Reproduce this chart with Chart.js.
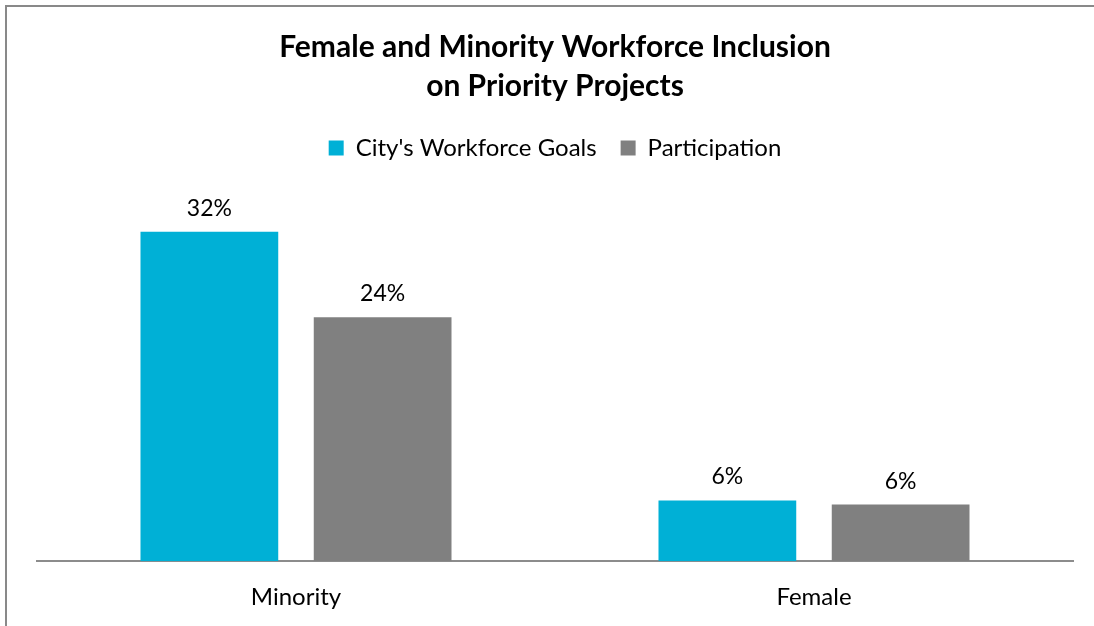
<!DOCTYPE html>
<html>
<head>
<meta charset="utf-8">
<script src="https://cdn.jsdelivr.net/npm/chart.js@4"></script>
<style>
  html, body { margin: 0; padding: 0; background: #fff; }
  #wrap { position: relative; width: 1094px; height: 626px; overflow: hidden; }
  #frame { position: absolute; left: 5px; top: 5px; width: 1200px; height: 700px;
           border-top: 2px solid #898989; border-left: 2px solid #898989; pointer-events: none; }
</style>
</head>
<body>
<div id="wrap">
  <canvas id="chart" width="1094" height="626"></canvas>
  <div id="frame"></div>
</div>
<script>
const categories = ['Minority', 'Female'];
const goals = [32, 5.9];
const participation = [23.7, 5.5];
const valueLabels = [['32%', '6%'], ['24%', '6%']];

const barLabels = {
    id: 'barLabels',
    afterDatasetsDraw(chart) {
        const ctx = chart.ctx;
        ctx.save();
        ctx.font = '23px Lato';
        ctx.fillStyle = '#000';
        ctx.textAlign = 'center';
        ctx.textBaseline = 'bottom';
        chart.data.datasets.forEach((ds, i) => {
            chart.getDatasetMeta(i).data.forEach((bar, j) => {
                ctx.fillText(valueLabels[i][j], bar.x, bar.y - 12);
            });
        });
        ctx.restore();
    }
};

const ctx = document.getElementById('chart').getContext('2d');
const chart = new Chart(ctx, {
    type: 'bar',
    data: {
        labels: categories,
        datasets: [{
            label: "City's Workforce Goals",
            data: goals,
            backgroundColor: '#00B0D6',
            categoryPercentage: 0.669,
            barPercentage: 0.795
        }, {
            label: 'Participation',
            data: participation,
            backgroundColor: '#808080',
            categoryPercentage: 0.669,
            barPercentage: 0.795
        }]
    },
    options: {
        responsive: false,
        animation: false,
        layout: { padding: { left: 37, right: 21, top: 28, bottom: 0 } },
        plugins: {
            title: {
                display: true,
                text: ['Female and Minority Workforce Inclusion', 'on Priority Projects'],
                color: '#000',
                font: { family: 'Lato', size: 30, weight: 'bold', lineHeight: 1.3 },
                padding: { top: 0, bottom: 6 }
            },
            legend: {
                labels: {
                    color: '#000',
                    font: { family: 'Lato', size: 24 },
                    boxWidth: 15,
                    boxHeight: 15,
                    padding: 24
                }
            },
            tooltip: { enabled: false }
        },
        scales: {
            x: {
                grid: { display: false },
                border: { display: true, color: '#8c8c8c', width: 2 },
                ticks: { color: '#000', font: { family: 'Lato', size: 24 }, padding: 14 }
            },
            y: {
                display: false,
                min: 0,
                max: 38
            }
        }
    },
    plugins: [barLabels]
});
</script>
</body>
</html>
